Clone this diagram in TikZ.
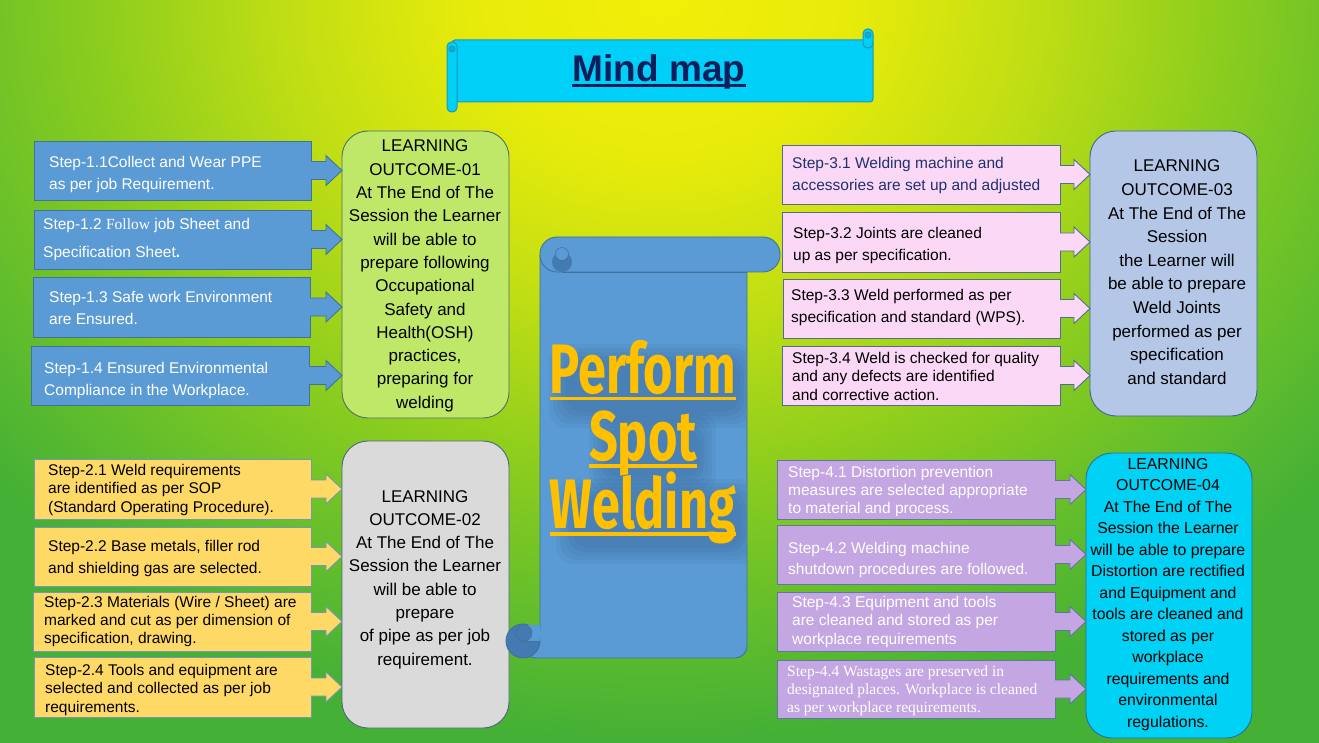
\documentclass[tikz,border=0pt]{standalone}
\usepackage{fontspec}
\setmainfont{Liberation Sans}
\newfontfamily\tnr{Liberation Serif}
\newfontfamily\condf[FakeStretch=0.72]{Fira Sans}
\usetikzlibrary{calc}
\definecolor{bgA}{RGB}{242,238,8}
\definecolor{bgB}{RGB}{232,235,10}
\definecolor{bgC}{RGB}{192,222,20}
\definecolor{bgD}{RGB}{140,205,30}
\definecolor{bgE}{RGB}{95,188,45}
\definecolor{bgF}{RGB}{68,176,54}
\pgfdeclareradialshading{bgshade}{\pgfpoint{0bp}{0bp}}{color(0bp)=(bgA); color(3.75bp)=(bgB); color(7.5bp)=(bgC); color(11.25bp)=(bgD); color(15bp)=(bgE); color(17.5bp)=(bgF); color(50bp)=(bgF)}
\definecolor{tcyan}{RGB}{0,208,248}
\definecolor{tborder}{RGB}{30,150,185}
\definecolor{tdark}{RGB}{20,170,215}
\definecolor{titlec}{RGB}{12,30,92}
\definecolor{sblue}{RGB}{91,155,213}
\definecolor{sborder}{RGB}{65,113,156}
\definecolor{sdark}{RGB}{68,122,178}
\definecolor{pgold}{RGB}{255,192,0}
\definecolor{shadowc}{RGB}{30,60,100}
\definecolor{oneF}{RGB}{192,232,104}
\definecolor{oneD}{RGB}{80,110,110}
\definecolor{twoS}{RGB}{255,217,102}
\definecolor{twoB}{RGB}{120,150,185}
\definecolor{twoF}{RGB}{218,218,218}
\definecolor{twoD}{RGB}{80,100,130}
\definecolor{thrS}{RGB}{251,216,246}
\definecolor{thrB}{RGB}{85,105,155}
\definecolor{thrF}{RGB}{180,199,231}
\definecolor{thrD}{RGB}{65,100,150}
\definecolor{navyT}{RGB}{31,50,110}
\definecolor{fouS}{RGB}{196,166,226}
\definecolor{fouB}{RGB}{100,115,170}
\definecolor{fouF}{RGB}{0,210,245}
\definecolor{fouD}{RGB}{40,110,170}
\newcommand\Ll[2]{\vtop{\baselineskip=#1\lineskiplimit=-1000pt\lineskip=0pt\halign{##\hfil\cr#2\crcr}}}
\newcommand\Lc[2]{\vtop{\baselineskip=#1\lineskiplimit=-1000pt\lineskip=0pt\halign{\hfil##\hfil\cr#2\crcr}}}
\newcommand\boxnode[7]{\node[stepbox, fill=#6, draw=#7, minimum width={#4-#2}, minimum height={#5-#3}, anchor=north west] (#1) at (#2,#3) {};}
\newcommand\outnode[7]{\node[outbox, fill=#6, draw=#7, minimum width={#4-#2}, minimum height={#5-#3}, anchor=north west] (#1) at (#2,#3) {};}
\newcommand\blockarrow[4]{%
  \fill[#3] let \p1=(#1.east), \p2=(#2.west |- #1.east) in (\x1-1.2pt,\y1+9pt) -- (\x2-16pt,\y1+9pt) -- (\x2-16pt,\y1+15pt) -- (\x2,\y1) -- (\x2-16pt,\y1-15pt) -- (\x2-16pt,\y1-9pt) -- (\x1-1.2pt,\y1-9pt) -- cycle;
  \draw[#4, line width=0.9pt, line join=miter] let \p1=(#1.east), \p2=(#2.west |- #1.east) in (\x1,\y1+9pt) -- (\x2-16pt,\y1+9pt) -- (\x2-16pt,\y1+15pt) -- (\x2,\y1) -- (\x2-16pt,\y1-15pt) -- (\x2-16pt,\y1-9pt) -- (\x1,\y1-9pt);}
\newcommand\softshadow[4]{%
  \foreach \k in {0,4,8,12,16}{\fill[shadowc, opacity=0.06, rounded corners=18pt] (#1-\k,#2-\k) rectangle (#3+\k,#4+\k);}}
\begin{document}
\begin{tikzpicture}[x=1pt,y=-1pt,
  stepbox/.style={rectangle, inner sep=0pt, outer sep=0pt, line width=0.9pt},
  outbox/.style={rectangle, rounded corners=26pt, inner sep=0pt, outer sep=0pt, line width=0.9pt},
  steptext/.style={anchor=base west, inner sep=0pt, font=\fontsize{15.5pt}{18pt}\selectfont},
  outtext/.style={anchor=base, inner sep=0pt, text=black, font=\fontsize{17pt}{20pt}\selectfont},
  bigtext/.style={anchor=base, inner sep=0pt, font=\condf\bfseries\fontsize{70pt}{70pt}\selectfont}]
\useasboundingbox (0,0) rectangle (1319,743);
% background
\begin{scope}
\clip (0,0) rectangle (1319,743);
\fill[bgF] (0,0) rectangle (1319,743);
\shade[shading=bgshade] (660,0) ellipse (1250pt and 1060pt);
\end{scope}
% title scroll
\draw[fill=tcyan, draw=tborder, line width=1pt, rounded corners=3pt] (452,40) rectangle (873,102);
\draw[fill=tcyan, draw=tborder, line width=1pt, rounded corners=4.5pt] (863,29) rectangle (873,48);
\draw[fill=tdark, draw=tborder, line width=0.8pt] (868,35) circle (3pt);
\draw[fill=tcyan, draw=tborder, line width=1pt, rounded corners=4.5pt] (447,42) rectangle (457,112);
\draw[fill=tdark, draw=tborder, line width=0.8pt] (452,49) circle (3pt);
\node[anchor=base, inner sep=0pt, text=titlec, font=\bfseries\fontsize{37pt}{40pt}\selectfont] (title) at (659,82) {Mind map};
\draw[titlec, line width=3pt] ([yshift=-4pt]title.base west) -- ([yshift=-4pt]title.base east);
% outcome boxes
\outnode{o1}{342}{131}{509}{418}{oneF}{oneD}
\outnode{o2}{342}{441}{509}{728}{twoF}{twoD}
\outnode{o3}{1090}{131}{1257}{416}{thrF}{thrD}
\outnode{o4}{1086}{453}{1252}{738}{fouF}{fouD}
% step boxes
\boxnode{s11}{34}{141}{311}{200}{sblue}{sborder}
\boxnode{s12}{34}{210}{311}{269}{sblue}{sborder}
\boxnode{s13}{33}{277}{310}{337}{sblue}{sborder}
\boxnode{s14}{31}{346}{309}{405}{sblue}{sborder}
\boxnode{s21}{34}{459}{311}{519}{twoS}{twoB}
\boxnode{s22}{34}{527}{311}{586}{twoS}{twoB}
\boxnode{s23}{33}{592}{311}{651}{twoS}{twoB}
\boxnode{s24}{34}{657}{311}{717}{twoS}{twoB}
\boxnode{s31}{782}{145}{1060}{204}{thrS}{thrB}
\boxnode{s32}{782}{212}{1060}{272}{thrS}{thrB}
\boxnode{s33}{783}{279}{1060}{338}{thrS}{thrB}
\boxnode{s34}{782}{346}{1060}{405}{thrS}{thrB}
\boxnode{s41}{777}{460}{1055}{519}{fouS}{fouB}
\boxnode{s42}{777}{525}{1055}{584}{fouS}{fouB}
\boxnode{s43}{777}{592}{1055}{651}{fouS}{fouB}
\boxnode{s44}{777}{660}{1055}{718}{fouS}{fouB}
% arrows
\blockarrow{s11}{o1}{sblue}{sborder}
\blockarrow{s12}{o1}{sblue}{sborder}
\blockarrow{s13}{o1}{sblue}{sborder}
\blockarrow{s14}{o1}{sblue}{sborder}
\blockarrow{s21}{o2}{twoS}{twoB}
\blockarrow{s22}{o2}{twoS}{twoB}
\blockarrow{s23}{o2}{twoS}{twoB}
\blockarrow{s24}{o2}{twoS}{twoB}
\blockarrow{s31}{o3}{thrS}{thrB}
\blockarrow{s32}{o3}{thrS}{thrB}
\blockarrow{s33}{o3}{thrS}{thrB}
\blockarrow{s34}{o3}{thrS}{thrB}
\blockarrow{s41}{o4}{fouS}{fouB}
\blockarrow{s42}{o4}{fouS}{fouB}
\blockarrow{s43}{o4}{fouS}{fouB}
\blockarrow{s44}{o4}{fouS}{fouB}
% center scroll
\draw[fill=sblue, draw=sborder, line width=0.9pt, rounded corners=12pt] (540,255) -- (540,641) -- (523,641) -- (523,658) -- (747,658) -- (747,255);
\draw[fill=sblue, draw=sborder, line width=0.9pt, rounded corners=17pt] (540,237) rectangle (780,272);
\fill[sdark] (562,262) circle (10pt);
\draw[fill=sblue, draw=sborder, line width=0.6pt] (562,254) circle (6.5pt);
\draw[sborder, line width=0.9pt] (562,272) -- (747,272);
\draw[fill=sdark, draw=sborder, line width=0.9pt] (523,641) circle (17pt);
\fill[sblue] (523,625) rectangle (539.5,641);
\draw[sborder, line width=0.9pt] (523,641) -- (540,641);
\draw[fill=sdark, draw=sborder, line width=0.6pt] (524,633) circle (8pt);
% soft shadow behind the title words
\begin{scope}
\clip (541,273) rectangle (746,657);
\softshadow{565}{360}{740}{412}
\softshadow{605}{428}{700}{478}
\softshadow{572}{495}{742}{548}
\end{scope}
\node[bigtext, text=pgold] (pf) at (643,393) {Perform};
\node[bigtext, text=pgold] (sp) at (643,460) {Spot};
\node[bigtext, text=pgold] (wd) at (643,528) {Welding};
\draw[pgold, line width=3.5pt] ([yshift=-5.5pt]pf.base west) -- ([yshift=-5.5pt]pf.base east);
\draw[pgold, line width=3.5pt] ([yshift=-6pt]sp.base west) -- ([yshift=-6pt]sp.base east);
\draw[pgold, line width=3.5pt] ([yshift=-6pt]wd.base west) -- ([yshift=-6pt]wd.base east);
% step texts
\node[steptext, text=white] (t11) at (49,168) {\Ll{22pt}{Step-1.1Collect and Wear PPE\cr as per job Requirement.}};
\node[steptext, text=white] (t12) at (43,230) {\Ll{28pt}{Step-1.2 {\tnr Follow} job Sheet and\cr Specification Sheet{\bfseries .}}};
\node[steptext, text=white] (t13) at (49,302) {\Ll{22pt}{Step-1.3 Safe work Environment\cr are Ensured.}};
\node[steptext, text=white] (t14) at (44,373) {\Ll{22pt}{Step-1.4 Ensured Environmental\cr Compliance in the Workplace.}};
\node[steptext, text=black] (t21) at (48,475) {\Ll{18.5pt}{Step-2.1 Weld requirements\cr are identified as per SOP\cr (Standard Operating Procedure).}};
\node[steptext, text=black] (t22) at (48,551) {\Ll{22pt}{Step-2.2 Base metals, filler rod\cr and shielding gas are selected.}};
\node[steptext, text=black] (t23) at (44,607) {\Ll{18pt}{Step-2.3 Materials (Wire / Sheet) are\cr marked and cut as per dimension of\cr specification, drawing.}};
\node[steptext, text=black] (t24) at (45,675) {\Ll{18.5pt}{Step-2.4 Tools and equipment are\cr selected and collected as per job\cr requirements.}};
\node[steptext, text=navyT] (t31) at (792,169) {\Ll{22pt}{Step-3.1 Welding machine and\cr accessories are set up and adjusted}};
\node[steptext, text=black] (t32) at (793,239) {\Ll{22pt}{Step-3.2 Joints are cleaned\cr up as per specification.}};
\node[steptext, text=black] (t33) at (791,300) {\Ll{22pt}{Step-3.3 Weld performed as per\cr specification and standard (WPS).}};
\node[steptext, text=black] (t34) at (792,363) {\Ll{18.5pt}{Step-3.4 Weld is checked for quality\cr and any defects are identified\cr and corrective action.}};
\node[steptext, text=white] (t41) at (788,477) {\Ll{18pt}{Step-4.1 Distortion prevention\cr measures are selected appropriate\cr to material and process.}};
\node[steptext, text=white] (t42) at (788,553) {\Ll{21pt}{Step-4.2 Welding machine\cr shutdown procedures are followed.}};
\node[steptext, text=white] (t43) at (792,607) {\Ll{18.5pt}{Step-4.3 Equipment and tools\cr are cleaned and stored as per\cr workplace requirements}};
\node[steptext, text=white, font=\tnr\fontsize{15.5pt}{18pt}\selectfont] (t44) at (787,676) {\Ll{18pt}{Step-4.4 Wastages are preserved in\cr designated places. Workplace is cleaned\cr as per workplace requirements.}};
% outcome texts
\node[outtext] (ot1) at (425,152) {\Lc{23.3pt}{LEARNING\cr OUTCOME-01\cr At The End of The\cr Session the Learner\cr will be able to\cr prepare following\cr Occupational\cr Safety and\cr Health(OSH)\cr practices,\cr preparing for\cr welding}};
\node[outtext] (ot2) at (425,502) {\Lc{23.3pt}{LEARNING\cr OUTCOME-02\cr At The End of The\cr Session the Learner\cr will be able to\cr prepare\cr of pipe as per job\cr requirement.}};
\node[outtext] (ot3) at (1177,172) {\Lc{23.6pt}{LEARNING\cr OUTCOME-03\cr At The End of The\cr Session\cr the Learner will\cr be able to prepare\cr Weld Joints\cr performed as per\cr specification\cr and standard}};
\node[outtext, font=\fontsize{15.8pt}{19pt}\selectfont] (ot4) at (1168,469) {\Lc{21.5pt}{LEARNING\cr OUTCOME-04\cr At The End of The\cr Session the Learner\cr will be able to prepare\cr Distortion are rectified\cr and Equipment and\cr tools are cleaned and\cr stored as per\cr workplace\cr requirements and\cr environmental\cr regulations.}};
\end{tikzpicture}
\end{document}
